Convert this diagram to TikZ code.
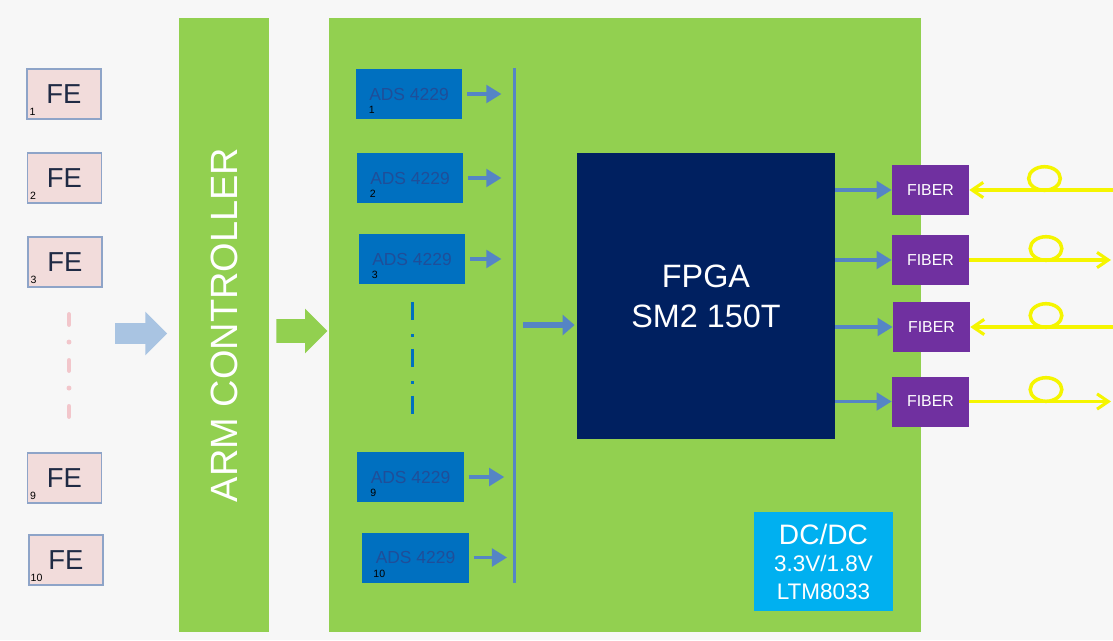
\documentclass[tikz,border=0pt]{standalone}
\usepackage{fontspec}
\setmainfont{Liberation Sans}
\usepackage{tikz}
\usetikzlibrary{arrows.meta,positioning,shapes.geometric,shapes.arrows,calc}
\definecolor{bgcol}{HTML}{F7F7F7}
\definecolor{fepink}{HTML}{F2DCDB}
\definecolor{feborder}{HTML}{8EA4C8}
\definecolor{fetext}{HTML}{1F2A44}
\definecolor{fedash}{HTML}{F2C6CB}
\definecolor{boardgreen}{HTML}{92D050}
\definecolor{adsblue}{HTML}{0070C0}
\definecolor{adstext}{HTML}{1F4E99}
\definecolor{busblue}{HTML}{5585C5}
\definecolor{fpganavy}{HTML}{002060}
\definecolor{fiberpurple}{HTML}{7030A0}
\definecolor{fibyellow}{HTML}{F5F500}
\definecolor{dcblue}{HTML}{00B0F0}
\definecolor{inblue}{HTML}{A9C4E2}

\begin{document}
\begin{tikzpicture}[
    x=0.025cm, y=-0.025cm,
    fe/.style={draw=feborder, line width=0.8pt, fill=fepink, minimum width=1.85cm, minimum height=1.25cm, inner sep=0pt, text=fetext, font=\fontsize{19.5}{20}\selectfont},
    num/.style={anchor=west, inner sep=0pt, text=black, font=\fontsize{7.5}{8}\selectfont},
    ads/.style={fill=adsblue, minimum width=2.65cm, minimum height=1.25cm, inner sep=0pt, text=adstext, font=\fontsize{12.4}{13}\selectfont},
    fiber/.style={fill=fiberpurple, minimum width=1.925cm, minimum height=1.25cm, inner sep=0pt, text=white, font=\fontsize{11.3}{12}\selectfont},
    arrow/.style={-{Triangle[length=3.8mm, width=4.4mm]}, line width=2.6pt, draw=busblue},
    fiberline/.style={line width=2.2pt, draw=fibyellow, arrows={-Straight Barb[length=2.8mm, width=3.8mm]}},
    fibreloop/.style={ellipse, draw=fibyellow, line width=2.5pt, minimum width=0.79cm, minimum height=0.59cm, inner sep=0pt},
    blockarrow/.style={single arrow, inner xsep=0pt, minimum height=1.3cm},
    fedots/.style={draw=fedash, line width=3.5pt, line cap=round, dash pattern=on 7.1pt off 12.5pt on 0pt off 13.1pt},
    adsdots/.style={draw=adsblue, line width=2.8pt, dash pattern=on 12.8pt off 10pt on 2.1pt off 8.5pt}
]
\fill[bgcol] (0,0) rectangle (1113,640);
\useasboundingbox (0,0) rectangle (1113,640);

% front ends
\node[fe] (fe1) at (64,94) {FE};
\node[fe] (fe2) at (64.5,178) {FE};
\node[fe] (fe3) at (65,262) {FE};
\node[fe] (fe9) at (64.5,478) {FE};
\node[fe] (fe10) at (66,560) {FE};
\node[num] (fe1num) at ([shift={(3,-8)}]fe1.south west) {1};
\node[num] (fe2num) at ([shift={(3,-8)}]fe2.south west) {2};
\node[num] (fe3num) at ([shift={(3,-8)}]fe3.south west) {3};
\node[num] (fe9num) at ([shift={(3,-8)}]fe9.south west) {9};
\node[num] (fe10num) at ([shift={(2,-8)}]fe10.south west) {10};
\draw[fedots] (69,314.5) -- (69,421);

% controller
\node[blockarrow, fill=inblue, minimum width=1.075cm, inner ysep=0.25cm, single arrow head extend=0.29cm] (inarrow) at (136,333.5) {};
\node[fill=boardgreen, rotate=90, minimum width=15.35cm, minimum height=2.25cm, text=white, font=\fontsize{27}{30}\selectfont] (arm) at (224,325) {ARM CONTROLLER};
\node[blockarrow, fill=boardgreen, minimum width=1.1cm, minimum height=1.275cm, inner ysep=0.29cm, single arrow head extend=0.26cm] (armarrow) at (296,331) {};

% board
\node[fill=boardgreen, minimum width=14.8cm, minimum height=15.35cm] (board) at (625,325) {};
\node[ads] (ads1) at (409,94) {ADS 4229};
\node[ads] (ads2) at (410,178) {ADS 4229};
\node[ads] (ads3) at (412,259) {ADS 4229};
\node[ads] (ads9) at (410.5,477) {ADS 4229};
\node[ads] (ads10) at (415.5,557.5) {ADS 4229};
\node[num] (ads1num) at ([shift={(13,-9)}]ads1.south west) {1};
\node[num] (ads2num) at ([shift={(13,-9)}]ads2.south west) {2};
\node[num] (ads3num) at ([shift={(13,-9)}]ads3.south west) {3};
\node[num] (ads9num) at ([shift={(13,-9)}]ads9.south west) {9};
\node[num] (ads10num) at ([shift={(11,-9)}]ads10.south west) {10};
\draw[adsdots] (412.5,302) -- (412.5,416);
\node[fill=busblue, minimum width=0.075cm, minimum height=12.875cm, inner sep=0pt] (bus) at (514.5,325.5) {};
\draw[arrow, shorten <=3.5pt, shorten >=8pt] (ads1.east) -- (ads1.east -| bus.west);
\draw[arrow, shorten <=3.5pt, shorten >=8pt] (ads2.east) -- (ads2.east -| bus.west);
\draw[arrow, shorten <=3.5pt, shorten >=8pt] (ads3.east) -- (ads3.east -| bus.west);
\draw[arrow, shorten <=3.5pt, shorten >=6pt] (ads9.east) -- (ads9.east -| bus.west);
\draw[arrow, shorten <=3.5pt, shorten >=4pt] (ads10.east) -- (ads10.east -| bus.west);

\node[fill=fpganavy, minimum width=6.45cm, minimum height=7.15cm, align=center, text=white, font=\fontsize{23}{28.5}\selectfont] (fpga) at (706,296) {FPGA\\SM2 150T};
\draw[arrow, line width=4.5pt, -{Triangle[length=3mm, width=5mm]}, shorten <=5pt, shorten >=1.5pt] (bus.east |- 0,325) -- (fpga.west |- 0,325);

\node[fill=dcblue, minimum width=3.475cm, minimum height=2.475cm, align=center, text=white, font=\fontsize{16}{19.5}\selectfont] (dcdc) at (823.5,561.5) {{\fontsize{20}{22}\selectfont DC/DC}\\3.3V/1.8V\\LTM8033};

% fiber links
\node[fiber] (fib1) at (930.5,190) {FIBER};
\node[fiber] (fib2) at (930.5,260) {FIBER};
\node[fiber] (fib3) at (931.5,327) {FIBER};
\node[fiber] (fib4) at (930.5,401.5) {FIBER};
\draw[arrow] (fpga.east |- fib1) -- (fib1.west);
\draw[arrow] (fpga.east |- fib2) -- (fib2.west);
\draw[arrow] (fpga.east |- fib3) -- (fib3.west);
\draw[arrow] (fpga.east |- fib4) -- (fib4.west);
\coordinate (out1) at (1113,190);
\coordinate (out2) at (1111,260);
\coordinate (out3) at (1113,327);
\coordinate (out4) at (1111,401.5);
\draw[fiberline] (out1) -- (fib1.east);
\draw[fiberline] (fib2.east) -- (out2);
\draw[fiberline] (out3) -- (fib3.east);
\draw[fiberline] (fib4.east) -- (out4);
\node[fibreloop] (loop1) at (1044.5,178.5) {};
\node[fibreloop] (loop2) at (1046,248.5) {};
\node[fibreloop] (loop3) at (1046,315.5) {};
\node[fibreloop] (loop4) at (1046,389.5) {};
\end{tikzpicture}
\end{document}
